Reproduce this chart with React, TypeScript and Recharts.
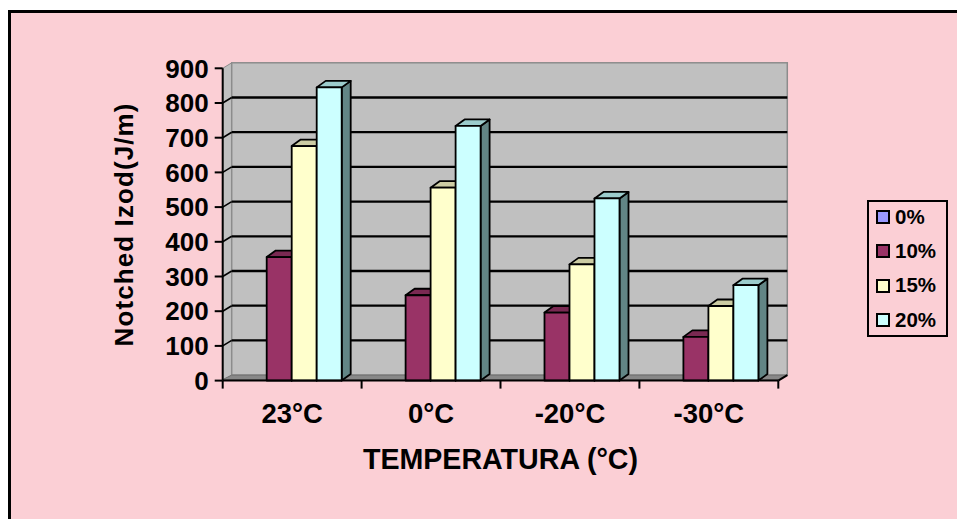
import React from 'react';
import { BarChart, Bar, XAxis, YAxis, ReferenceArea, ReferenceLine, Legend } from 'recharts';

const categories = ['23°C', '0°C', '-20°C', '-30°C'];
const seriesNames = ['0%', '10%', '15%', '20%'];
const series0 = [0, 0, 0, 0];
const series10 = [356, 246, 196, 126];
const series15 = [676, 556, 335, 215];
const series20 = [845, 734, 525, 275];
const yTicks = [0, 100, 200, 300, 400, 500, 600, 700, 800, 900];
const gridValues = [100, 200, 300, 400, 500, 600, 700, 800];

const data = categories.map((cat, i) => ({
  cat,
  s0: series0[i],
  s10: series10[i],
  s15: series15[i],
  s20: series20[i],
}));

const FONT = '"Liberation Sans", Arial, Helvetica, sans-serif';
const WDX = 9;
const WDY = -5.5;
const BDX = 9;
const BDY = -6.5;

const Walls = (props: any) => {
  const { x, y, width: w, height: h } = props;
  if (x == null || w == null) return <g />;
  const n = categories.length;
  const b = y + h;
  return (
    <g>
      <polygon
        points={`${x},${b} ${x},${y} ${x + WDX},${y + WDY} ${x + WDX},${b + WDY}`}
        fill="#C0C0C0"
        stroke="#8C8C8C"
        strokeWidth={1}
      />
      <rect x={x + WDX} y={y + WDY} width={w} height={h} fill="#C0C0C0" stroke="#8C8C8C" strokeWidth={1.5} />
      <polygon
        points={`${x},${b - 1} ${x + WDX},${b + WDY} ${x + w + WDX},${b + WDY} ${x + w},${b - 1}`}
        fill="#888888"
        stroke="#707070"
        strokeWidth={1}
      />
      <line x1={x + w} y1={b} x2={x + w + WDX} y2={b + WDY} stroke="#000" strokeWidth={2} />
      {Array.from({ length: n + 1 }, (_, i) => (
        <line key={i} x1={x + (i * w) / n} x2={x + (i * w) / n} y1={b} y2={b + 8} stroke="#000" strokeWidth={2} />
      ))}
    </g>
  );
};

const GridShape = (p: any) => (
  <g>
    <line x1={p.x1} y1={p.y1} x2={p.x1 + WDX} y2={p.y1 + WDY} stroke="#000" strokeWidth={1.6} />
    <line x1={p.x1 + WDX} y1={p.y1 + WDY} x2={p.x2 + WDX} y2={p.y2 + WDY} stroke="#000" strokeWidth={2.3} />
  </g>
);

const makeBar = (top: string, side: string) => (p: any) => {
  const { x, y, width: w, height: h, fill } = p;
  if (!h || h <= 0 || !w) return <g />;
  const common = { stroke: '#000', strokeWidth: 1.8, strokeLinejoin: 'round' as const };
  return (
    <g>
      <polygon
        points={`${x + w},${y} ${x + w + BDX},${y + BDY} ${x + w + BDX},${y + h + BDY} ${x + w},${y + h}`}
        fill={side}
        {...common}
      />
      <polygon
        points={`${x},${y} ${x + BDX},${y + BDY} ${x + w + BDX},${y + BDY} ${x + w},${y}`}
        fill={top}
        {...common}
      />
      <rect x={x} y={y} width={w} height={h} fill={fill} {...common} />
    </g>
  );
};

const XTick = (p: any) => (
  <text
    x={p.x}
    y={p.y + 42.4}
    textAnchor="middle"
    fontFamily={FONT}
    fontWeight="bold"
    fontSize={27.5}
    fill="#000"
  >
    {p.payload.value}
  </text>
);

const LegendBox = (props: any) => {
  const payload = props.payload || [];
  return (
    <div
      style={{
        width: 81,
        height: 137,
        boxSizing: 'border-box',
        outline: '2px solid #000',
        outlineOffset: -2,
        display: 'flex',
        flexDirection: 'column',
      }}
    >
      {payload.map((entry: any) => (
        <div
          key={entry.value}
          style={{ flex: 1, display: 'flex', alignItems: 'center', paddingLeft: 9 }}
        >
          <span
            style={{
              display: 'inline-block',
              width: 14,
              height: 14,
              boxSizing: 'border-box',
              border: '2px solid #000',
              background: entry.color,
              marginRight: 5,
            }}
          />
          <span
            style={{
              fontFamily: FONT,
              fontWeight: 'bold',
              fontSize: 20.5,
              color: '#000',
              lineHeight: 1,
            }}
          >
            {entry.value}
          </span>
        </div>
      ))}
    </div>
  );
};

export default function App() {
  return (
    <>
      <div
        style={{
          position: 'fixed',
          left: 8,
          top: 10,
          width: 949,
          height: 509,
          background: '#FBCFD5',
          borderTop: '3px solid #000',
          borderLeft: '3px solid #000',
          boxSizing: 'border-box',
        }}
      />
      <div style={{ position: 'fixed', left: 0, top: 0 }}>
        <BarChart
          width={957}
          height={519}
          data={data}
          margin={{ top: 68.3, right: 178.7, left: 142.7, bottom: 38.4 }}
          barGap={0}
          barSize={25}
        >
          <ReferenceArea y1={0} y2={900} shape={Walls} zIndex={-80} ifOverflow="visible" />
          {gridValues.map((v) => (
            <ReferenceLine key={v} y={v} shape={GridShape} zIndex={-70} />
          ))}
          <XAxis
            dataKey="cat"
            height={100}
            tickLine={false}
            tickSize={0}
            tickMargin={0}
            axisLine={{ stroke: '#000', strokeWidth: 2 }}
            tick={<XTick />}
            interval={0}
            label={{
              value: 'TEMPERATURA (°C)',
              position: 'insideBottom',
              offset: 11.6,
              style: { fontFamily: FONT, fontWeight: 'bold', fontSize: 28.6, fill: '#000' },
            }}
          />
          <YAxis
            type="number"
            domain={[0, 900]}
            ticks={yTicks}
            interval={0}
            width={80}
            tickSize={8}
            tickMargin={6}
            axisLine={{ stroke: '#000', strokeWidth: 2 }}
            tickLine={{ stroke: '#000', strokeWidth: 2 }}
            tick={{ fontFamily: FONT, fontWeight: 'bold', fontSize: 26, fill: '#000' }}
            label={{
              value: 'Notched Izod(J/m)',
              angle: -90,
              position: 'insideLeft',
              offset: -19.2,
              style: {
                textAnchor: 'middle',
                fontFamily: FONT,
                fontWeight: 'bold',
                fontSize: 26,
                fill: '#000',
                letterSpacing: 1.1,
              },
            }}
          />
          <Bar dataKey="s0" name={seriesNames[0]} fill="#9999FF" shape={makeBar('#7A7ACC', '#4D4D80')} isAnimationActive={false} />
          <Bar dataKey="s10" name={seriesNames[1]} fill="#993366" shape={makeBar('#7A2952', '#4D1A33')} isAnimationActive={false} />
          <Bar dataKey="s15" name={seriesNames[2]} fill="#FFFFCC" shape={makeBar('#CCCCA3', '#808066')} isAnimationActive={false} />
          <Bar dataKey="s20" name={seriesNames[3]} fill="#CCFFFF" shape={makeBar('#9CCCCC', '#628585')} isAnimationActive={false} />
          <Legend
            layout="vertical"
            align="center"
            verticalAlign="middle"
            content={<LegendBox />}
            wrapperStyle={{ left: 867, top: 200, width: 81, height: 137 }}
          />
        </BarChart>
      </div>
    </>
  );
}
